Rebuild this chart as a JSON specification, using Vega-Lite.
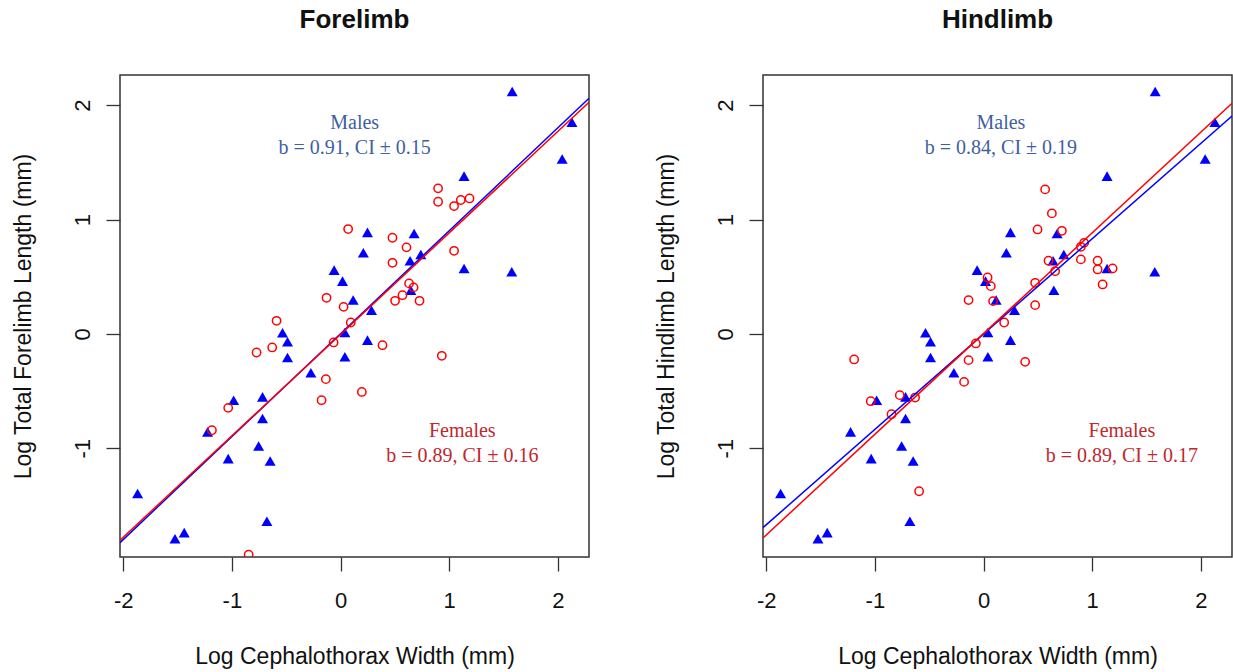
{
  "$schema": "https://vega.github.io/schema/vega-lite/v6.json",
  "background": "white",
  "padding": {"left": 11, "top": 6, "right": 2, "bottom": 2},
  "datasets": {
    "males": [
      {"x": 1.58, "y": 2.12}, {"x": 2.13, "y": 1.85}, {"x": 2.04, "y": 1.53}, {"x": 1.137, "y": 1.38},
      {"x": 0.248, "y": 0.888}, {"x": 0.677, "y": 0.879}, {"x": 0.21, "y": 0.71}, {"x": 0.739, "y": 0.695},
      {"x": 0.64, "y": 0.64}, {"x": 1.137, "y": 0.573}, {"x": 1.576, "y": 0.543}, {"x": 0.018, "y": 0.462},
      {"x": 0.116, "y": 0.296}, {"x": 0.647, "y": 0.383}, {"x": 0.285, "y": 0.208}, {"x": 0.04, "y": 0.013},
      {"x": 0.248, "y": -0.054}, {"x": 0.04, "y": -0.2}, {"x": -0.534, "y": 0.01}, {"x": -0.488, "y": -0.069},
      {"x": -0.488, "y": -0.206}, {"x": -0.273, "y": -0.34}, {"x": -0.984, "y": -0.579}, {"x": -0.718, "y": -0.55},
      {"x": -0.718, "y": -0.74}, {"x": -1.224, "y": -0.856}, {"x": -0.754, "y": -0.979}, {"x": -1.034, "y": -1.09},
      {"x": -0.648, "y": -1.11}, {"x": -1.868, "y": -1.395}, {"x": -0.678, "y": -1.638}, {"x": -1.439, "y": -1.737},
      {"x": -1.524, "y": -1.79}, {"x": -0.059, "y": 0.558}
    ],
    "fore_f": [
      {"x": 0.898, "y": 1.273}, {"x": 0.898, "y": 1.156}, {"x": 1.045, "y": 1.118}, {"x": 1.107, "y": 1.171},
      {"x": 1.187, "y": 1.185}, {"x": 0.07, "y": 0.917}, {"x": 0.478, "y": 0.841}, {"x": 0.607, "y": 0.757},
      {"x": 0.478, "y": 0.622}, {"x": 1.045, "y": 0.727}, {"x": 0.631, "y": 0.442}, {"x": 0.672, "y": 0.407},
      {"x": 0.57, "y": 0.339}, {"x": 0.502, "y": 0.29}, {"x": 0.727, "y": 0.29}, {"x": 0.028, "y": 0.237},
      {"x": 0.094, "y": 0.1}, {"x": -0.129, "y": 0.316}, {"x": -0.589, "y": 0.115}, {"x": -0.064, "y": -0.074},
      {"x": -0.629, "y": -0.118}, {"x": -0.773, "y": -0.162}, {"x": -0.135, "y": -0.395}, {"x": -0.175, "y": -0.579},
      {"x": -1.034, "y": -0.646}, {"x": -1.184, "y": -0.842}, {"x": -0.846, "y": -1.93}, {"x": 0.386, "y": -0.098},
      {"x": 0.932, "y": -0.191}, {"x": 0.196, "y": -0.507}
    ],
    "hind_f": [
      {"x": 0.567, "y": 1.264}, {"x": 0.629, "y": 1.054}, {"x": 0.497, "y": 0.914}, {"x": 0.721, "y": 0.902},
      {"x": 0.926, "y": 0.797}, {"x": 0.896, "y": 0.762}, {"x": 0.598, "y": 0.64}, {"x": 0.896, "y": 0.652},
      {"x": 0.659, "y": 0.549}, {"x": 1.05, "y": 0.64}, {"x": 1.05, "y": 0.564}, {"x": 1.188, "y": 0.573},
      {"x": 1.096, "y": 0.433}, {"x": 0.475, "y": 0.447}, {"x": 0.475, "y": 0.252}, {"x": 0.037, "y": 0.494},
      {"x": 0.067, "y": 0.418}, {"x": 0.088, "y": 0.287}, {"x": 0.19, "y": 0.1}, {"x": 0.383, "y": -0.244},
      {"x": -0.138, "y": 0.296}, {"x": -1.191, "y": -0.223}, {"x": -1.038, "y": -0.588}, {"x": -0.771, "y": -0.535},
      {"x": -0.63, "y": -0.556}, {"x": -0.847, "y": -0.702}, {"x": -0.593, "y": -1.375}, {"x": -0.071, "y": -0.083},
      {"x": -0.138, "y": -0.229}, {"x": -0.179, "y": -0.419}
    ],
    "fits": [
      {"panel": "Forelimb", "sex": "Males", "x": -2.03, "y": -1.824},
      {"panel": "Forelimb", "sex": "Males", "x": 2.287, "y": 2.06},
      {"panel": "Forelimb", "sex": "Females", "x": -2.03, "y": -1.804},
      {"panel": "Forelimb", "sex": "Females", "x": 2.287, "y": 2.025},
      {"panel": "Hindlimb", "sex": "Males", "x": -2.03, "y": -1.693},
      {"panel": "Hindlimb", "sex": "Males", "x": 2.287, "y": 1.905},
      {"panel": "Hindlimb", "sex": "Females", "x": -2.03, "y": -1.784},
      {"panel": "Hindlimb", "sex": "Females", "x": 2.287, "y": 2.017}
    ],
    "notes": [
      {"panel": "Forelimb", "sex": "Males", "x": 0.13, "y": 1.842, "label": "Males"},
      {"panel": "Forelimb", "sex": "Males", "x": 0.13, "y": 1.623, "label": "b = 0.91, CI ± 0.15"},
      {"panel": "Forelimb", "sex": "Females", "x": 1.121, "y": -0.85, "label": "Females"},
      {"panel": "Forelimb", "sex": "Females", "x": 1.121, "y": -1.069, "label": "b = 0.89, CI ± 0.16"},
      {"panel": "Hindlimb", "sex": "Males", "x": 0.16, "y": 1.842, "label": "Males"},
      {"panel": "Hindlimb", "sex": "Males", "x": 0.16, "y": 1.623, "label": "b = 0.84, CI ± 0.19"},
      {"panel": "Hindlimb", "sex": "Females", "x": 1.273, "y": -0.85, "label": "Females"},
      {"panel": "Hindlimb", "sex": "Females", "x": 1.273, "y": -1.069, "label": "b = 0.89, CI ± 0.17"}
    ]
  },
  "spacing": 174,
  "bounds": "flush",
  "hconcat": [
    {
      "width": 469,
      "height": 482,
      "title": {"text": "Forelimb"},
      "encoding": {
        "x": {"field": "x", "type": "quantitative", "scale": {"domain": [-2.03, 2.287], "nice": false, "zero": false},
              "axis": {"title": "Log Cephalothorax Width (mm)", "values": [-2, -1, 0, 1, 2]}},
        "y": {"field": "y", "type": "quantitative", "scale": {"domain": [-1.95, 2.264], "nice": false, "zero": false},
              "axis": {"title": "Log Total Forelimb Length (mm)", "values": [-1, 0, 1, 2]}}
      },
      "layer": [
        {"data": {"name": "males"}, "mark": {"type": "point", "shape": "triangle-up", "filled": true, "color": "#0000FF", "size": 121, "opacity": 1, "clip": true}},
        {"data": {"name": "fore_f"}, "mark": {"type": "point", "shape": "circle", "filled": false, "color": "#FF0000", "size": 69, "strokeWidth": 1.5, "opacity": 1, "clip": true}},
        {"data": {"name": "fits"}, "transform": [{"filter": "datum.panel === 'Forelimb'"}],
         "mark": {"type": "line", "strokeWidth": 1.5, "clip": true},
         "encoding": {"color": {"field": "sex", "type": "nominal", "scale": {"domain": ["Males", "Females"], "range": ["#0000FF", "#FF0000"]}, "legend": null}}},
        {"data": {"name": "notes"}, "transform": [{"filter": "datum.panel === 'Forelimb' && datum.sex === 'Males'"}],
         "mark": {"type": "text", "font": "Liberation Serif", "fontSize": 20, "color": "#3F5F9F", "align": "center", "baseline": "middle"},
         "encoding": {"text": {"field": "label"}}},
        {"data": {"name": "notes"}, "transform": [{"filter": "datum.panel === 'Forelimb' && datum.sex === 'Females'"}],
         "mark": {"type": "text", "font": "Liberation Serif", "fontSize": 20, "color": "#C0282D", "align": "center", "baseline": "middle"},
         "encoding": {"text": {"field": "label"}}}
      ]
    },
    {
      "width": 469,
      "height": 482,
      "title": {"text": "Hindlimb"},
      "encoding": {
        "x": {"field": "x", "type": "quantitative", "scale": {"domain": [-2.03, 2.287], "nice": false, "zero": false},
              "axis": {"title": "Log Cephalothorax Width (mm)", "values": [-2, -1, 0, 1, 2]}},
        "y": {"field": "y", "type": "quantitative", "scale": {"domain": [-1.95, 2.264], "nice": false, "zero": false},
              "axis": {"title": "Log Total Hindlimb Length (mm)", "values": [-1, 0, 1, 2]}}
      },
      "layer": [
        {"data": {"name": "males"}, "mark": {"type": "point", "shape": "triangle-up", "filled": true, "color": "#0000FF", "size": 121, "opacity": 1, "clip": true}},
        {"data": {"name": "hind_f"}, "mark": {"type": "point", "shape": "circle", "filled": false, "color": "#FF0000", "size": 69, "strokeWidth": 1.5, "opacity": 1, "clip": true}},
        {"data": {"name": "fits"}, "transform": [{"filter": "datum.panel === 'Hindlimb'"}],
         "mark": {"type": "line", "strokeWidth": 1.5, "clip": true},
         "encoding": {"color": {"field": "sex", "type": "nominal", "scale": {"domain": ["Males", "Females"], "range": ["#0000FF", "#FF0000"]}, "legend": null}}},
        {"data": {"name": "notes"}, "transform": [{"filter": "datum.panel === 'Hindlimb' && datum.sex === 'Males'"}],
         "mark": {"type": "text", "font": "Liberation Serif", "fontSize": 20, "color": "#3F5F9F", "align": "center", "baseline": "middle"},
         "encoding": {"text": {"field": "label"}}},
        {"data": {"name": "notes"}, "transform": [{"filter": "datum.panel === 'Hindlimb' && datum.sex === 'Females'"}],
         "mark": {"type": "text", "font": "Liberation Serif", "fontSize": 20, "color": "#C0282D", "align": "center", "baseline": "middle"},
         "encoding": {"text": {"field": "label"}}}
      ]
    }
  ],
  "config": {
    "view": {"stroke": "#333333", "strokeWidth": 1.5},
    "font": "Liberation Sans",
    "axis": {
      "grid": false, "domain": false, "tickColor": "#333333", "tickWidth": 1.3, "tickSize": 14,
      "labelFont": "Liberation Sans", "labelFontSize": 22, "labelColor": "#111111",
      "titleFont": "Liberation Sans", "titleFontSize": 23, "titleFontWeight": "normal", "titleColor": "#111111",
      "labelFlush": false, "labelOverlap": false,
      "labelExpr": "datum.value < 0 ? '-' + abs(datum.value) : '' + datum.value"
    },
    "axisX": {"labelPadding": 19, "titlePadding": 34},
    "axisY": {"labelAngle": -90, "labelPadding": 12, "titlePadding": 36},
    "title": {"font": "Liberation Sans", "fontSize": 26, "fontWeight": "bold", "color": "#111111", "offset": 42}
  }
}
